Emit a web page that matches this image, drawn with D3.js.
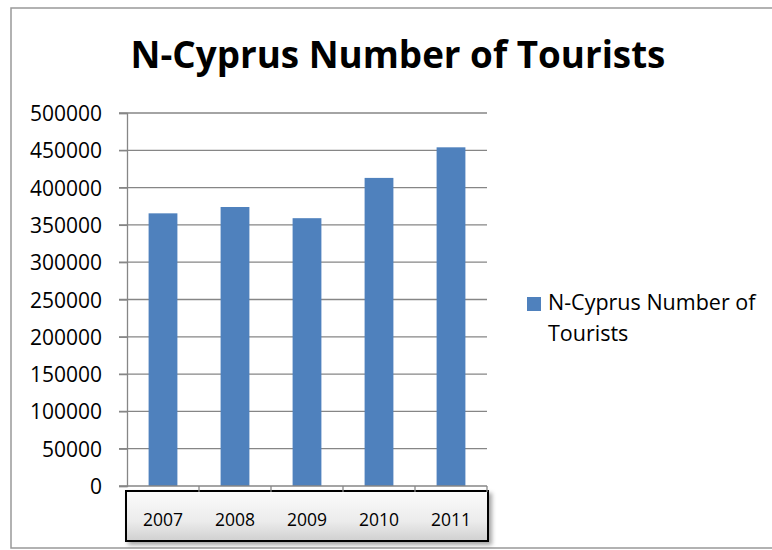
<!DOCTYPE html>
<html>
<head>
<meta charset="utf-8">
<script src="https://cdn.jsdelivr.net/npm/d3@7"></script>
<style>
  body { margin: 0; background: #fff; }
  svg { display: block; font-family: "Open Sans", sans-serif; }
</style>
</head>
<body>
<svg id="chart"></svg>
<script>
let years = ["2007", "2008", "2009", "2010", "2011"]
let tourists = [365500, 374000, 359000, 413000, 454000]
let yTicks = [0, 50000, 100000, 150000, 200000, 250000, 300000, 350000, 400000, 450000, 500000]
let seriesName = "N-Cyprus Number of Tourists"

let svg = d3.select("#chart")
            .attr("width", 772)
            .attr("height", 550)

let plot = {left: 127, right: 487, top: 113, bottom: 486}

let x = d3.scaleBand()
          .domain(years)
          .range([plot.left, plot.right])
          .paddingInner(0.6)
          .paddingOuter(0.3)

let y = d3.scaleLinear()
          .domain([0, 500000])
          .range([plot.bottom, plot.top])

// gradient + shadow for the category axis box
let defs = svg.append("defs")
let grad = defs.append("linearGradient")
               .attr("id", "boxGrad")
               .attr("x1", 0).attr("y1", 0).attr("x2", 0).attr("y2", 1)
grad.append("stop").attr("offset", "0%").attr("stop-color", "#fbfbfb")
grad.append("stop").attr("offset", "60%").attr("stop-color", "#ececec")
grad.append("stop").attr("offset", "100%").attr("stop-color", "#d0d0d0")
let shadow = defs.append("filter").attr("id", "shadow")
                 .attr("x", "-10%").attr("y", "-20%").attr("width", "130%").attr("height", "160%")
shadow.append("feDropShadow")
      .attr("dx", 3).attr("dy", 3).attr("stdDeviation", 2)
      .attr("flood-color", "#000").attr("flood-opacity", 0.35)

// chart frame
svg.append("rect")
   .attr("x", 11).attr("y", 8)
   .attr("width", 780).attr("height", 540)
   .attr("fill", "#fff")
   .attr("stroke", "#999")
   .attr("stroke-width", 1.5)

// title, fitted to the width it has in the picture
let title = svg.append("text")
   .attr("x", 398).attr("y", 68)
   .attr("text-anchor", "middle")
   .attr("font-weight", "bold")
   .attr("font-size", 40)
   .attr("fill", "#000")
   .text(seriesName)
let tw = title.node().getComputedTextLength()
title.attr("font-size", 40 * 535 / tw)

// gridlines
svg.append("g")
   .selectAll("line")
   .data(yTicks.filter(d => d > 0))
   .enter()
   .append("line")
   .attr("x1", plot.left - 8)
   .attr("x2", plot.right)
   .attr("y1", d => y(d))
   .attr("y2", d => y(d))
   .attr("stroke", "#868686")
   .attr("stroke-width", 1.3)

// y axis
let yAxis = svg.append("g")
   .attr("transform", `translate(${plot.left},0)`)
   .call(d3.axisLeft(y).tickValues(yTicks).tickSize(8).tickPadding(17).tickFormat(d3.format("d")))
yAxis.select(".domain").attr("stroke", "#868686").attr("stroke-width", 1.3)
yAxis.selectAll(".tick line").attr("stroke", "#868686").attr("stroke-width", 1.3)
yAxis.selectAll(".tick text")
     .attr("font-size", 21)
     .attr("font-family", "Open Sans, sans-serif")
     .attr("fill", "#000")
     .attr("dy", "0.36em")

// bars
svg.append("g")
   .selectAll("rect")
   .data(tourists)
   .enter()
   .append("rect")
   .attr("x", (d, i) => x(years[i]))
   .attr("y", d => y(d))
   .attr("width", x.bandwidth())
   .attr("height", d => y(0) - y(d))
   .attr("fill", "#4f81bd")

// category axis line
svg.append("line")
   .attr("x1", plot.left - 8).attr("x2", plot.right)
   .attr("y1", y(0)).attr("y2", y(0))
   .attr("stroke", "#868686").attr("stroke-width", 1.3)

// category label box
svg.append("rect")
   .attr("x", plot.left - 1).attr("y", 491)
   .attr("width", plot.right - plot.left + 2).attr("height", 50)
   .attr("fill", "url(#boxGrad)")
   .attr("stroke", "#000")
   .attr("stroke-width", 2)
   .attr("filter", "url(#shadow)")

let step = x.step()
svg.append("g")
   .selectAll("line")
   .data(years)
   .enter()
   .append("line")
   .attr("x1", (d, i) => plot.left + step * (i + 1))
   .attr("x2", (d, i) => plot.left + step * (i + 1))
   .attr("y1", y(0))
   .attr("y2", 492)
   .attr("stroke", "#868686")
   .attr("stroke-width", 1.3)

svg.append("g")
   .selectAll("text")
   .data(years)
   .enter()
   .append("text")
   .attr("x", d => x(d) + x.bandwidth() / 2)
   .attr("y", 526)
   .attr("text-anchor", "middle")
   .attr("font-size", 17.5)
   .attr("fill", "#000")
   .text(d => d)

// legend
let legend = svg.append("g")
legend.append("rect")
      .attr("x", 527).attr("y", 297)
      .attr("width", 14).attr("height", 14)
      .attr("fill", "#4f81bd")
let lt = legend.append("text")
      .attr("font-size", 21.5)
      .attr("fill", "#000")
lt.append("tspan").attr("x", 548).attr("y", 310).text("N-Cyprus Number of")
lt.append("tspan").attr("x", 548).attr("y", 341).text("Tourists")
</script>
</body>
</html>
